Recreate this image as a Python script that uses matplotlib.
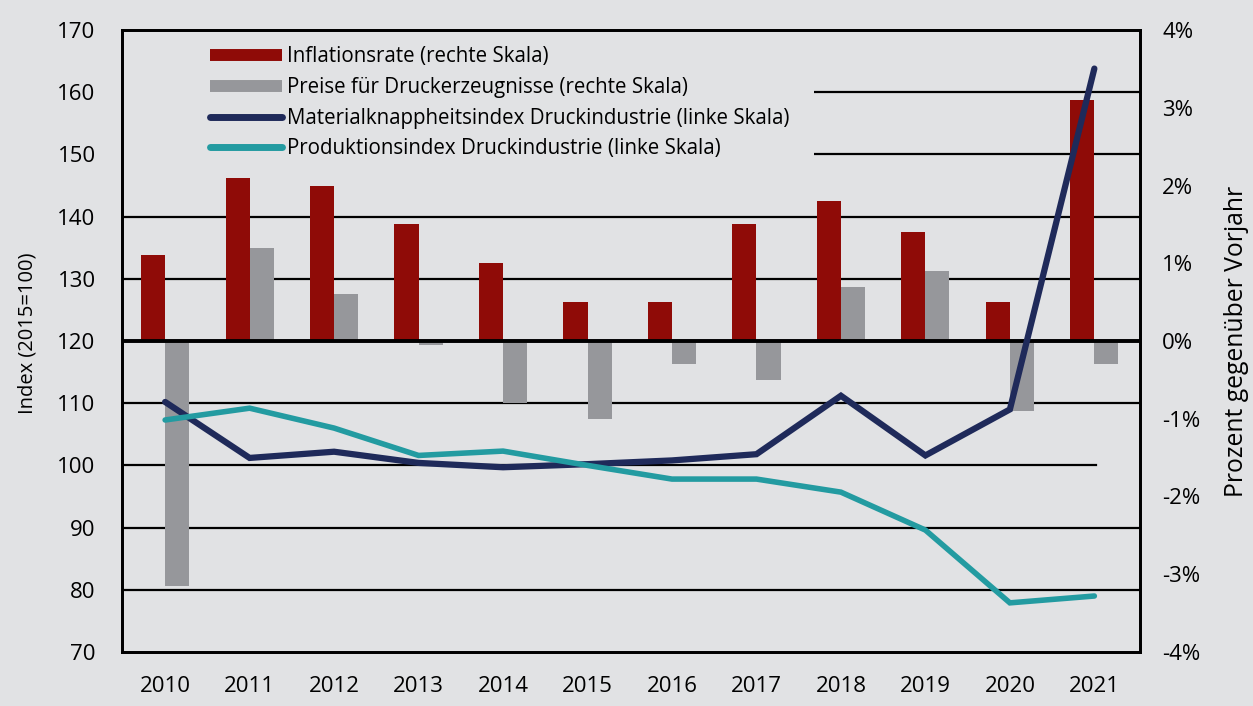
import matplotlib
matplotlib.use('Agg')
import matplotlib.pyplot as plt
from matplotlib.lines import Line2D
from matplotlib.patches import Rectangle
import numpy as np

# Data
years = ['2010', '2011', '2012', '2013', '2014', '2015', '2016', '2017', '2018', '2019', '2020', '2021']
inflation = [1.1, 2.1, 2.0, 1.5, 1.0, 0.5, 0.5, 1.5, 1.8, 1.4, 0.5, 3.1]
druckpreise = [-3.15, 1.2, 0.6, -0.05, -0.8, -1.0, -0.3, -0.5, 0.7, 0.9, -0.9, -0.3]
material = [110.2, 101.2, 102.2, 100.4, 99.7, 100.2, 100.8, 101.8, 111.2, 101.6, 109.0, 163.8]
produktion = [107.3, 109.2, 106.0, 101.6, 102.3, 100.0, 97.8, 97.8, 95.7, 89.6, 77.9, 79.0]

left_ticks = [70, 80, 90, 100, 110, 120, 130, 140, 150, 160, 170]
right_ticks = [-4, -3, -2, -1, 0, 1, 2, 3, 4]

bg = '#e1e2e4'
c_red = '#8f0b07'
c_gray = '#96979b'
c_navy = '#1f2a5a'
c_teal = '#239ba1'

plt.rcParams['font.family'] = ['Open Sans', 'DejaVu Sans']

fig = plt.figure(figsize=(12.53, 7.06), dpi=100, facecolor=bg)
ax = fig.add_axes([0.0974, 0.0765, 0.8124, 0.881])
ax.set_facecolor(bg)
ax2 = ax.twinx()

x = np.arange(len(years))
w = 0.285

# bars on the percentage axis (right side)
ax.bar(x - w / 2, inflation, w, color=c_red, zorder=2)
ax.bar(x + w / 2, druckpreise, w, color=c_gray, zorder=2)
ax.set_ylim(-4, 4)
ax.set_xlim(-0.51, 11.54)
ax.yaxis.tick_right()
ax.yaxis.set_label_position('right')
ax.set_yticks(right_ticks)
ax.set_yticklabels([f'{t}%' for t in right_ticks])
ax.set_ylabel('Prozent gegenüber Vorjahr', fontsize=17.8)
ax.yaxis.set_label_coords(1.0825, 0.5)
ax.set_xticks(x)
ax.set_xticklabels(years)
ax.tick_params(axis='both', length=0, labelsize=16)
ax.tick_params(axis='y', pad=16)
ax.tick_params(axis='x', pad=17)

# gridlines at the left-axis ticks (index 120 == 0 %)
for v in left_ticks[1:-1]:
    xmax = 0.957 if v == 100 else 1
    ax.axhline((v - 120) / 12.5, xmax=xmax, color='black', lw=1.6, zorder=1)
ax.axhline(0, color='black', lw=2.8, zorder=3)

# legend area is blanked with the background colour
ax.add_patch(Rectangle((0, 0.788), 0.68, 0.212, transform=ax.transAxes,
                       facecolor=bg, edgecolor='none', zorder=1.5))

# lines on the index axis (left side)
ax2.yaxis.tick_left()
ax2.yaxis.set_label_position('left')
ax2.plot(x, material, color=c_navy, lw=4.5, solid_capstyle='round', solid_joinstyle='miter', zorder=4)
ax2.plot(x, produktion, color=c_teal, lw=4.0, solid_capstyle='round', solid_joinstyle='miter', zorder=4)
ax2.set_ylim(70, 170)
ax2.set_yticks(left_ticks)
ax2.tick_params(axis='y', length=0, labelsize=16, pad=19)
ax2.set_ylabel('Index (2015=100)', fontsize=14.5)
ax2.yaxis.set_label_coords(-0.0835, 0.513)

for a in (ax, ax2):
    for s in a.spines.values():
        s.set_linewidth(2)
        s.set_color('black')

handles = [
    Line2D([], [], color=c_red, lw=8.6, solid_capstyle='butt'),
    Line2D([], [], color=c_gray, lw=8.6, solid_capstyle='butt'),
    Line2D([], [], color=c_navy, lw=5, solid_capstyle='round'),
    Line2D([], [], color=c_teal, lw=5, solid_capstyle='round'),
]
labels = ['Inflationsrate (rechte Skala)',
          'Preise für Druckerzeugnisse (rechte Skala)',
          'Materialknappheitsindex Druckindustrie (linke Skala)',
          'Produktionsindex Druckindustrie (linke Skala)']
leg = ax2.legend(handles, labels, loc='upper left', bbox_to_anchor=(0.07, 1.0),
                 fontsize=14.8, handlelength=3.5, handletextpad=0.25, labelspacing=0.47,
                 frameon=False, borderpad=0.3)
leg.set_zorder(5)

fig.savefig('out.png', dpi=100, facecolor=bg)
